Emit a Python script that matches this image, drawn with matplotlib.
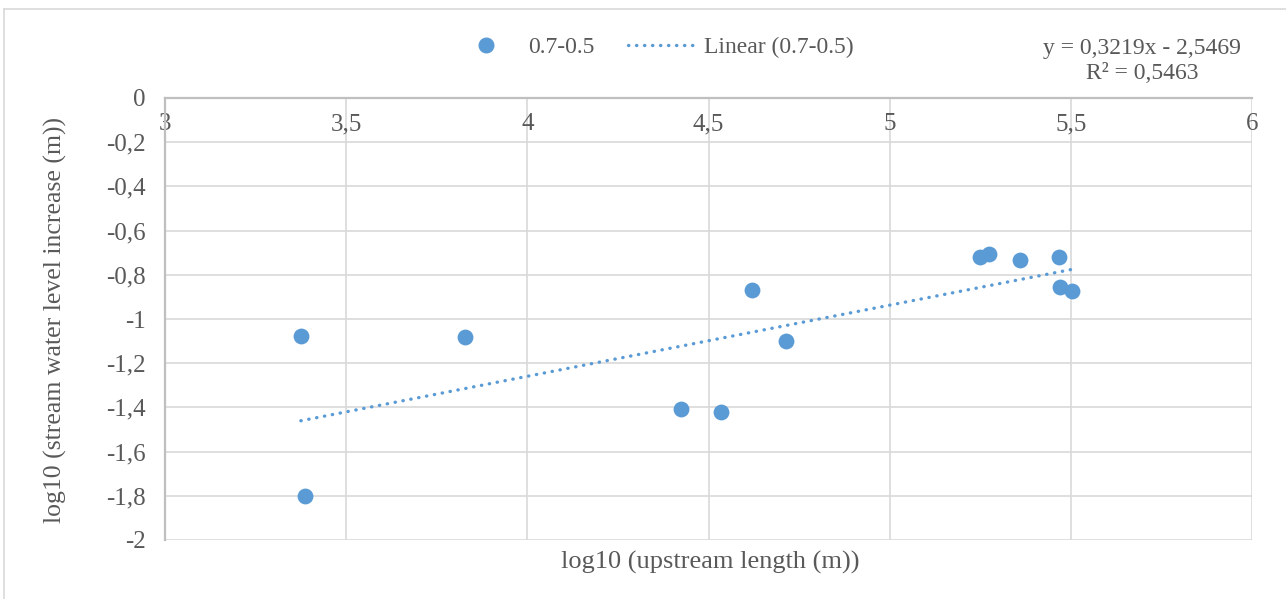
import matplotlib.pyplot as plt
import numpy as np
from matplotlib.lines import Line2D

plt.rcParams['font.family'] = ['Liberation Serif', 'DejaVu Serif']

# data
upstream_len = [3.375, 3.386, 3.828, 4.424, 4.535, 4.620, 4.714,
                5.249, 5.274, 5.360, 5.467, 5.470, 5.503]
level_incr = [-1.077, -1.801, -1.081, -1.407, -1.421, -0.869, -1.100,
              -0.719, -0.706, -0.733, -0.719, -0.855, -0.873]
series_name = "0.7-0.5"
slope, intercept, r2 = 0.3219, -2.5469, 0.5463
x_ticks = [3, 3.5, 4, 4.5, 5, 5.5, 6]
y_ticks = [0, -0.2, -0.4, -0.6, -0.8, -1, -1.2, -1.4, -1.6, -1.8, -2]

blue = '#5b9bd5'
txt = '#595959'
grid_c = '#d9d9d9'
axis_c = '#bfbfbf'


def comma(v):
    s = f"{v:g}"
    return s.replace('.', ',')


fig = plt.figure(figsize=(12.86, 5.99), dpi=100)
# chart-area border (only top and left edges visible in the crop)
fig.add_artist(Line2D([4 / 1286, 1], [1 - 9 / 599] * 2, transform=fig.transFigure,
                      color=grid_c, linewidth=1.2))
fig.add_artist(Line2D([4 / 1286] * 2, [0, 1 - 9 / 599], transform=fig.transFigure,
                      color=grid_c, linewidth=1.2))

ax = fig.add_axes([165 / 1286, 1 - 540 / 599, (1252 - 165) / 1286, (540 - 98) / 599])

ax.scatter(upstream_len, level_incr, s=130, color=blue, zorder=3, linewidths=0)

xs = np.array([min(upstream_len), max(upstream_len)])
ax.plot(xs, slope * xs + intercept, color=blue, linewidth=2.4,
        linestyle=(0, (0.1, 2.3)), dash_capstyle='round', zorder=2)

ax.set_xlim(3, 6)
ax.set_ylim(-2, 0)
ax.set_xticks(x_ticks)
ax.set_yticks(y_ticks)
ax.set_xticklabels([comma(v) for v in x_ticks])
ax.set_yticklabels([comma(v) for v in y_ticks])
ax.tick_params(axis='both', length=0, labelsize=18, labelcolor=txt)
ax.tick_params(axis='x', pad=11)
ax.tick_params(axis='y', pad=14)

ax.spines['bottom'].set_position(('data', 0))
ax.spines['top'].set_visible(False)
ax.spines['right'].set_visible(False)
for s in ('bottom', 'left'):
    ax.spines[s].set_color(axis_c)
    ax.spines[s].set_linewidth(1.6)
    ax.spines[s].set_zorder(2.5)
ax.grid(True, color=grid_c, linewidth=1.2)
ax.set_axisbelow(True)
ax.patch.set_alpha(0)

fig.text(710 / 1286, 1 - 562 / 599, "log10 (upstream length (m))",
         ha='center', va='center', fontsize=19, color=txt)
fig.text(55 / 1286, 1 - 320 / 599, "log10 (stream water level increase (m))",
         ha='center', va='center', rotation=90, fontsize=18.5, color=txt)

handles = [Line2D([], [], marker='o', linestyle='none', color=blue, markersize=10.5),
           Line2D([], [], color=blue, linewidth=2.4, linestyle=(0, (0.1, 2.3)),
                  dash_capstyle='round')]
fig.legend(handles, [series_name, f"Linear ({series_name})"], ncol=2,
           loc='center', bbox_to_anchor=(653 / 1286, 1 - 47 / 599), frameon=False,
           fontsize=17, labelcolor=txt, handlelength=2.85, columnspacing=1.45,
           handletextpad=0.35)

eq = f"y = {comma(slope)}x - {comma(-intercept)}\nR² = {comma(r2)}"
fig.text(1142 / 1286, 1 - 61 / 599, eq, ha='center', va='center',
         fontsize=17, color=txt, linespacing=1.2)

fig.savefig('out.png', dpi=100, facecolor='white')
